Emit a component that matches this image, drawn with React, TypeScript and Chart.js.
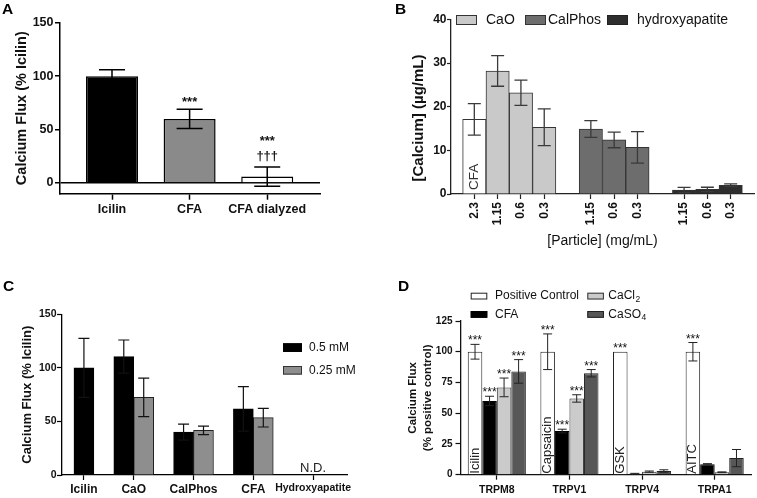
import React, { useEffect, useRef } from 'react';
import { Chart, registerables } from 'chart.js';

Chart.register(...registerables);

const FONT = "'Liberation Sans', Arial, Helvetica, sans-serif";
Chart.defaults.font.family = FONT;
Chart.defaults.color = '#111';

// ---------------- DATA ----------------
// Panel A
const A_CATEGORIES = ['Icilin', 'CFA', 'CFA dialyzed'];
const A_VALUES = [100, 60, 6];
const A_ERRORS = [6, 9, 9];
const A_SIG = [[], ['***'], ['†††', '***']];
const A_Y_TICKS = [0, 50, 100, 150];

// Panel B
const B_CFA_CONC = ['2.3'];
const B_CONC = ['1.15', '0.6', '0.3'];
const B_CFA = [17.1];
const B_CFA_ERR = [3.6];
const B_CAO = [28.2, 23.2, 15.3];
const B_CAO_ERR = [3.5, 2.9, 4.2];
const B_CALPHOS = [14.9, 12.4, 10.7];
const B_CALPHOS_ERR = [1.9, 1.8, 3.6];
const B_HYDROXY = [0.9, 1.05, 2.0];
const B_HYDROXY_ERR = [0.6, 0.5, 0.3];
const B_SERIES = ['CFA', 'CaO', 'CalPhos', 'hydroxyapatite'];

// Panel C
const C_CATEGORIES = ['Icilin', 'CaO', 'CalPhos', 'CFA', 'Hydroxyapatite'];
const C_SERIES = ['0.5 mM', '0.25 mM'];
const C_05 = [100, 110.5, 40, 61.7, null];
const C_05_ERR = [27.5, 15.5, 7.5, 20.8, null];
const C_025 = [null, 72.5, 41.7, 53.5, null];
const C_025_ERR = [null, 18, 4, 8.7, null];
const C_025_TESTED = [false, true, true, true, true];
const C_NOTE = ['', '', '', '', 'N.D.'];

// Panel D
const D_CATEGORIES = ['TRPM8', 'TRPV1', 'TRPV4', 'TRPA1'];
const D_SERIES = ['Positive Control', 'CFA', 'CaCl', 'CaSO'];
const D_SERIES_SUB = ['', '', '2', '4'];
const D_AGONIST = ['Icilin', 'Capsaicin', 'GSK', 'AITC'];
const D_PC = [100, 100, 100, 100];
const D_PC_ERR = [6, 14.5, 0, 7.5];
const D_CFA = [60, 35.5, 0.8, 8.5];
const D_CFA_ERR = [3.8, 1.5, 0.3, 0.5];
const D_CACL2 = [71, 62, 2.5, 2];
const D_CACL2_ERR = [7.6, 3, 0.5, 0.3];
const D_CASO4 = [84, 82.5, 3, 13.5];
const D_CASO4_ERR = [9.6, 3, 1, 7];
const D_PC_SIG = [['***'], ['***'], ['***'], ['***']];
const D_OTHER_SIG = [['***'], ['***'], [], []];

// ---------------- HELPERS ----------------
const f = (size: number, bold = false) => `${bold ? 'bold ' : ''}${size}px ${FONT}`;

function zeroPad(s: any) {
  s.paddingLeft = 0;
  s.paddingRight = 0;
  s.paddingTop = 0;
  s.paddingBottom = 0;
}

function drawText(ctx: CanvasRenderingContext2D, t: any) {
  ctx.save();
  ctx.fillStyle = t.color || '#111';
  ctx.font = t.font;
  ctx.textAlign = t.align || 'left';
  ctx.textBaseline = t.baseline || 'middle';
  ctx.translate(t.x, t.y);
  if (t.rotate) ctx.rotate(t.rotate);
  ctx.fillText(t.text, 0, 0);
  if (t.sub) {
    const w = ctx.measureText(t.text).width;
    ctx.font = t.subFont;
    ctx.fillText(t.sub, w + 0.5, 3.5);
  }
  ctx.restore();
}

function makeDecor(cfg: any) {
  return {
    id: 'decor',
    afterDatasetsDraw(chart: any) {
      const ctx: CanvasRenderingContext2D = chart.ctx;
      const ys = chart.scales.y;
      const zeroPx = ys.getPixelForValue(0);
      chart.data.datasets.forEach((ds: any, di: number) => {
        const meta = chart.getDatasetMeta(di);
        meta.data.forEach((el: any, j: number) => {
          const raw = ds.data[j];
          const v = raw !== null && typeof raw === 'object' ? raw.y : raw;
          if (v === null || v === undefined) return;
          const x = el.x;
          const e = ds.errors ? ds.errors[j] : 0;
          let topPx = ys.getPixelForValue(v);
          if (e) {
            const yT = ys.getPixelForValue(v + e);
            const yB = ys.getPixelForValue(v - e);
            const c = cfg.err.cap / 2;
            ctx.save();
            ctx.strokeStyle = cfg.err.color;
            ctx.lineWidth = cfg.err.width;
            ctx.beginPath();
            ctx.moveTo(x, yT);
            ctx.lineTo(x, yB);
            ctx.moveTo(x - c, yT);
            ctx.lineTo(x + c, yT);
            ctx.moveTo(x - c, yB);
            ctx.lineTo(x + c, yB);
            ctx.stroke();
            ctx.restore();
            topPx = yT;
          }
          if (ds.inner && ds.inner[j]) {
            drawText(ctx, {
              text: ds.inner[j], x, y: zeroPx - cfg.inner.offset, font: cfg.inner.font,
              rotate: -Math.PI / 2, align: 'left', baseline: 'middle', color: cfg.inner.color,
            });
          }
          if (ds.sig && ds.sig[j]) {
            ds.sig[j].forEach((s: string, k: number) => {
              const factor = s.indexOf('†') >= 0 ? 0.29 : 0.585;
              const centre = topPx - cfg.sig.first - k * cfg.sig.step;
              drawText(ctx, {
                text: s, x, y: centre + factor * cfg.sig.size, font: cfg.sig.font,
                align: 'center', baseline: 'alphabetic', color: '#111',
              });
            });
          }
        });
      });
    },
    afterDraw(chart: any) {
      const ctx: CanvasRenderingContext2D = chart.ctx;
      (cfg.legend || []).forEach((it: any) => {
        ctx.save();
        ctx.fillStyle = it.fill;
        ctx.fillRect(it.x, it.y, it.w, it.h);
        ctx.strokeStyle = it.stroke;
        ctx.lineWidth = 1;
        ctx.strokeRect(it.x + 0.5, it.y + 0.5, it.w - 1, it.h - 1);
        ctx.restore();
        drawText(ctx, { text: it.text, x: it.tx, y: it.ty, font: it.font, sub: it.sub, subFont: it.subFont });
      });
      (cfg.texts || []).forEach((t: any) => drawText(ctx, t));
      if (cfg.extra) cfg.extra(chart, ctx);
    },
  };
}

const baseOptions = (padding: any) => ({
  animation: false,
  responsive: false,
  maintainAspectRatio: false,
  events: [],
  layout: { padding },
  plugins: { legend: { display: false }, tooltip: { enabled: false } },
});

// ---------------- PANEL A ----------------
const A_W = 378, A_H = 248;
const makeA = () => ({
  type: 'bar',
  data: {
    datasets: [{
      data: A_VALUES.map((v, i) => ({ x: i, y: v })),
      backgroundColor: ['#000000', '#8a8a8a', '#ffffff'],
      borderColor: '#000',
      borderWidth: 1.5,
      grouped: false,
      categoryPercentage: 1,
      barPercentage: 0.67,
      errors: A_ERRORS,
      sig: A_SIG,
    }],
  },
  options: {
    ...baseOptions({ left: 0, top: 22.7, right: 58, bottom: 0 }),
    scales: {
      x: {
        type: 'linear', min: -0.67, max: 2.68, offset: false,
        grid: { drawOnChartArea: false, offset: false, tickLength: 6, tickColor: '#000', tickWidth: 1.5 },
        border: { color: '#000', width: 1.5 },
        ticks: {
          autoSkip: false, maxRotation: 0, minRotation: 0, padding: 2, color: '#111',
          font: { size: 12.5, weight: 'bold' },
          callback: (_v: any, i: number) => A_CATEGORIES[i],
        },
        afterBuildTicks: (s: any) => { s.ticks = A_CATEGORIES.map((_, i) => ({ value: i })); },
        afterFit: (s: any) => { s.height = A_H - 193.7; zeroPad(s); },
      },
      y: {
        min: -10, max: 150,
        grid: {
          color: (c: any) => (c.tick && c.tick.value === 0 ? '#000' : 'rgba(0,0,0,0)'),
          lineWidth: 1.5, tickColor: '#000', tickLength: 5, tickWidth: 1.5,
        },
        border: { color: '#000', width: 1.5 },
        ticks: { padding: 1.5, color: '#111', font: { size: 12.5, weight: 'bold' } },
        afterBuildTicks: (s: any) => { s.ticks = A_Y_TICKS.map((v) => ({ value: v })); },
        afterFit: (s: any) => { s.width = 60; zeroPad(s); },
        title: {
          display: true, text: 'Calcium Flux (% Icilin)', color: '#111',
          font: { size: 14.5, weight: 'bold' }, padding: { top: 13, bottom: 0 },
        },
      },
    },
  },
  plugins: [makeDecor({
    err: { color: '#000', width: 1.5, cap: 26 },
    sig: { font: f(13, true), size: 13, first: 10.5, step: 19.5 },
    texts: [{ text: 'A', x: 2, y: 10, font: f(15.5, true), color: '#000' }],
  })],
});

// ---------------- PANEL B ----------------
const B_W = 379, B_H = 250;
const makeB = () => {
  const series = [
    { name: B_SERIES[0], conc: B_CFA_CONC, values: B_CFA, err: B_CFA_ERR, color: '#ffffff', cluster: 0, inner: ['CFA'] },
    { name: B_SERIES[1], conc: B_CONC, values: B_CAO, err: B_CAO_ERR, color: '#c9c9c9', cluster: 0 },
    { name: B_SERIES[2], conc: B_CONC, values: B_CALPHOS, err: B_CALPHOS_ERR, color: '#6d6d6d', cluster: 1 },
    { name: B_SERIES[3], conc: B_CONC, values: B_HYDROXY, err: B_HYDROXY_ERR, color: '#2e2e2e', cluster: 2 },
  ];
  let cursor = 0;
  let last = 0;
  const tickPos: number[] = [];
  const tickLab: string[] = [];
  const datasets = series.map((s) => {
    if (s.cluster !== last) { cursor += 1; last = s.cluster; }
    const pos = s.values.map(() => cursor++);
    pos.forEach((p, i) => { tickPos.push(p); tickLab.push(s.conc[i]); });
    return {
      label: s.name,
      data: s.values.map((v, i) => ({ x: pos[i], y: v })),
      backgroundColor: s.color,
      borderColor: '#333',
      borderWidth: 1,
      grouped: false,
      categoryPercentage: 1,
      barPercentage: 1,
      errors: s.err,
      inner: (s as any).inner,
    };
  });
  const bf = f(14);
  return {
    type: 'bar',
    data: { datasets },
    options: {
      ...baseOptions({ left: 0, top: 19.5, right: 3, bottom: 0 }),
      scales: {
        x: {
          type: 'linear', min: -1, max: 12, offset: false,
          grid: { drawOnChartArea: false, offset: false, tickLength: 5, tickColor: '#222', tickWidth: 1.2 },
          border: { color: '#222', width: 1.3 },
          ticks: {
            autoSkip: false, maxRotation: 90, minRotation: 90, padding: 3, color: '#111',
            font: { size: 12, weight: 'bold' },
            callback: (_v: any, i: number) => tickLab[i],
          },
          afterBuildTicks: (s: any) => { s.ticks = tickPos.map((p) => ({ value: p })); },
          afterFit: (s: any) => { s.height = B_H - 194; zeroPad(s); },
          title: {
            display: true, text: '[Particle] (mg/mL)', color: '#111',
            font: { size: 14 }, padding: { top: 0, bottom: 0 },
          },
        },
        y: {
          min: 0, max: 40,
          grid: { drawOnChartArea: false, tickLength: 4, tickColor: '#222', tickWidth: 1.2 },
          border: { color: '#222', width: 1.3 },
          ticks: { stepSize: 10, padding: 0.5, color: '#111', font: { size: 12, weight: 'bold' } },
          afterFit: (s: any) => { s.width = 73; zeroPad(s); },
        },
      },
    },
    plugins: [makeDecor({
      err: { color: '#3a3a3a', width: 1.3, cap: 13 },
      sig: { font: f(12), size: 12, first: 7, step: 18 },
      inner: { font: f(13.5), offset: 4, color: '#333' },
      legend: [
        { x: 78, y: 15, w: 21, h: 10, fill: '#c9c9c9', stroke: '#333', text: B_SERIES[1], tx: 108, ty: 20.5, font: bf },
        { x: 147, y: 15, w: 21, h: 10, fill: '#6d6d6d', stroke: '#333', text: B_SERIES[2], tx: 170, ty: 20.5, font: bf },
        { x: 229, y: 15, w: 21, h: 10, fill: '#2e2e2e', stroke: '#222', text: B_SERIES[3], tx: 259, ty: 20.5, font: bf },
      ],
      texts: [
        { text: 'B', x: 17, y: 10, font: f(15.5, true), color: '#000' },
        { text: '[Calcium] (µg/mL)', x: 41, y: 118, font: f(15, true), rotate: -Math.PI / 2, align: 'center', color: '#111' },
      ],
    })],
  };
};

// ---------------- PANEL C ----------------
const C_W = 378, C_H = 248;
const makeC = () => {
  let cursor = 0;
  const pos05: number[] = [];
  const pos025: (number | null)[] = [];
  const centres: number[] = [];
  C_CATEGORIES.forEach((_, i) => {
    const n = C_025_TESTED[i] ? 2 : 1;
    pos05.push(cursor);
    pos025.push(n === 2 ? cursor + 1 : null);
    centres.push(cursor + (n - 1) / 2);
    cursor += n + 1;
  });
  const d05 = C_05.map((v, i) => ({ x: pos05[i], y: v }));
  const e05 = C_05_ERR.slice();
  const d025: any[] = [];
  const e025: any[] = [];
  C_025.forEach((v, i) => {
    if (pos025[i] !== null) { d025.push({ x: pos025[i], y: v }); e025.push(C_025_ERR[i]); }
  });
  const cf = f(12);
  return {
    type: 'bar',
    data: {
      datasets: [
        { label: C_SERIES[0], data: d05, backgroundColor: '#000', borderColor: '#000', borderWidth: 1, grouped: false, categoryPercentage: 1, barPercentage: 1, errors: e05 },
        { label: C_SERIES[1], data: d025, backgroundColor: '#8e8e8e', borderColor: '#222', borderWidth: 1, grouped: false, categoryPercentage: 1, barPercentage: 1, errors: e025 },
      ],
    },
    options: {
      ...baseOptions({ left: 0, top: 64.3, right: 31, bottom: 0 }),
      scales: {
        x: {
          type: 'linear', min: -1.1, max: 13.2, offset: false,
          grid: { drawOnChartArea: false, offset: false, tickLength: 5, tickColor: '#000', tickWidth: 1.2 },
          border: { color: '#000', width: 1.3 },
          ticks: {
            autoSkip: false, maxRotation: 0, minRotation: 0, padding: 2, color: '#111',
            font: (c: any) => ({ size: c.index === 4 ? 10.5 : 12, weight: 'bold' }),
            callback: (_v: any, i: number) => C_CATEGORIES[i],
          },
          afterBuildTicks: (s: any) => { s.ticks = centres.map((p) => ({ value: p })); },
          afterFit: (s: any) => { s.height = C_H - 225; zeroPad(s); },
        },
        y: {
          min: 0, max: 150,
          grid: { drawOnChartArea: false, tickLength: 5, tickColor: '#000', tickWidth: 1.2 },
          border: { color: '#000', width: 1.3 },
          ticks: { stepSize: 50, padding: 0.5, color: '#111', font: { size: 10.5, weight: 'bold' } },
          afterFit: (s: any) => { s.width = 62; zeroPad(s); },
          title: {
            display: true, text: 'Calcium Flux (% Icilin)', color: '#111',
            font: { size: 13, weight: 'bold' }, padding: { top: 20, bottom: 0 },
          },
        },
      },
    },
    plugins: [makeDecor({
      err: { color: '#111', width: 1.2, cap: 11 },
      sig: { font: f(12), size: 12, first: 7, step: 18 },
      legend: [
        { x: 283, y: 93.3, w: 19, h: 8.6, fill: '#000', stroke: '#000', text: C_SERIES[0], tx: 309, ty: 97.5, font: cf },
        { x: 283, y: 116, w: 19, h: 8.6, fill: '#8e8e8e', stroke: '#333', text: C_SERIES[1], tx: 309, ty: 120.5, font: cf },
      ],
      texts: [{ text: 'C', x: 3, y: 37, font: f(15.5, true), color: '#000' }],
      extra: (chart: any, ctx: CanvasRenderingContext2D) => {
        const xs = chart.scales.x;
        const zero = chart.scales.y.getPixelForValue(0);
        C_NOTE.forEach((t, i) => {
          if (!t) return;
          drawText(ctx, { text: t, x: xs.getPixelForValue(centres[i]), y: zero - 7, font: f(13), align: 'center', color: '#222' });
        });
      },
    })],
  };
};

// ---------------- PANEL D ----------------
const D_W = 379, D_H = 248;
const makeD = () => {
  const common = { borderWidth: 1, categoryPercentage: 0.8, barPercentage: 1 };
  const lf = f(12);
  const sf = f(8.5);
  return {
    type: 'bar',
    data: {
      labels: D_CATEGORIES,
      datasets: [
        { label: D_SERIES[0], data: D_PC, backgroundColor: '#ffffff', borderColor: '#222', errors: D_PC_ERR, sig: D_PC_SIG, inner: D_AGONIST, ...common },
        { label: D_SERIES[1], data: D_CFA, backgroundColor: '#000000', borderColor: '#000', errors: D_CFA_ERR, sig: D_OTHER_SIG, ...common },
        { label: D_SERIES[2] + D_SERIES_SUB[2], data: D_CACL2, backgroundColor: '#cbcbcb', borderColor: '#333', errors: D_CACL2_ERR, sig: D_OTHER_SIG, ...common },
        { label: D_SERIES[3] + D_SERIES_SUB[3], data: D_CASO4, backgroundColor: '#575757', borderColor: '#222', errors: D_CASO4_ERR, sig: D_OTHER_SIG, ...common },
      ],
    },
    options: {
      ...baseOptions({ left: 0, top: 71, right: 6, bottom: 0 }),
      scales: {
        x: {
          type: 'category',
          grid: { drawOnChartArea: false, offset: false, tickLength: 5, tickColor: '#111', tickWidth: 1.2 },
          border: { color: '#111', width: 1.3 },
          ticks: { autoSkip: false, maxRotation: 0, minRotation: 0, padding: 4, color: '#111', font: { size: 10.5, weight: 'bold' } },
          afterFit: (s: any) => { s.height = D_H - 224.7; zeroPad(s); },
        },
        y: {
          min: 0, max: 125,
          grid: { drawOnChartArea: false, tickLength: 5, tickColor: '#111', tickWidth: 1.2 },
          border: { color: '#111', width: 1.3 },
          ticks: { stepSize: 25, padding: 3, color: '#111', font: { size: 10, weight: 'bold' } },
          afterFit: (s: any) => { s.width = 82.5; zeroPad(s); },
          title: {
            display: true, text: ['Calcium Flux', '(% positive control)'], color: '#111',
            font: { size: 11.5, weight: 'bold', lineHeight: 1.3 }, padding: { top: 27.5, bottom: 0 },
          },
        },
      },
    },
    plugins: [makeDecor({
      err: { color: '#222', width: 1, cap: 9 },
      sig: { font: f(12), size: 12, first: 7, step: 18 },
      inner: { font: f(13), offset: 1, color: '#222' },
      legend: [
        { x: 92.7, y: 42.7, w: 16.6, h: 6.8, fill: '#ffffff', stroke: '#222', text: D_SERIES[0], tx: 117, ty: 46, font: lf },
        { x: 209.3, y: 42.7, w: 16.6, h: 6.8, fill: '#cbcbcb', stroke: '#333', text: D_SERIES[2], sub: D_SERIES_SUB[2], subFont: sf, tx: 230.3, ty: 46, font: lf },
        { x: 92.7, y: 61, w: 16.6, h: 6.8, fill: '#000000', stroke: '#000', text: D_SERIES[1], tx: 117, ty: 64.5, font: lf },
        { x: 209.3, y: 61, w: 16.6, h: 6.8, fill: '#575757', stroke: '#222', text: D_SERIES[3], sub: D_SERIES_SUB[3], subFont: sf, tx: 230.3, ty: 64.5, font: lf },
      ],
      texts: [{ text: 'D', x: 20, y: 37, font: f(15.5, true), color: '#000' }],
    })],
  };
};

// ---------------- COMPONENTS ----------------
function Panel(props: { left: number; top: number; width: number; height: number; make: () => any }) {
  const ref = useRef<HTMLCanvasElement | null>(null);
  useEffect(() => {
    if (!ref.current) return;
    const chart = new Chart(ref.current, props.make());
    return () => chart.destroy();
  }, []);
  return (
    <canvas
      ref={ref}
      width={props.width}
      height={props.height}
      style={{ position: 'absolute', left: props.left, top: props.top, width: props.width, height: props.height }}
    />
  );
}

export default function App() {
  return (
    <div style={{ position: 'fixed', left: 0, top: 0, width: 757, height: 498, background: '#fff', overflow: 'hidden' }}>
      <Panel left={0} top={0} width={A_W} height={A_H} make={makeA} />
      <Panel left={378} top={0} width={B_W} height={B_H} make={makeB} />
      <Panel left={0} top={250} width={C_W} height={C_H} make={makeC} />
      <Panel left={378} top={250} width={D_W} height={D_H} make={makeD} />
    </div>
  );
}
